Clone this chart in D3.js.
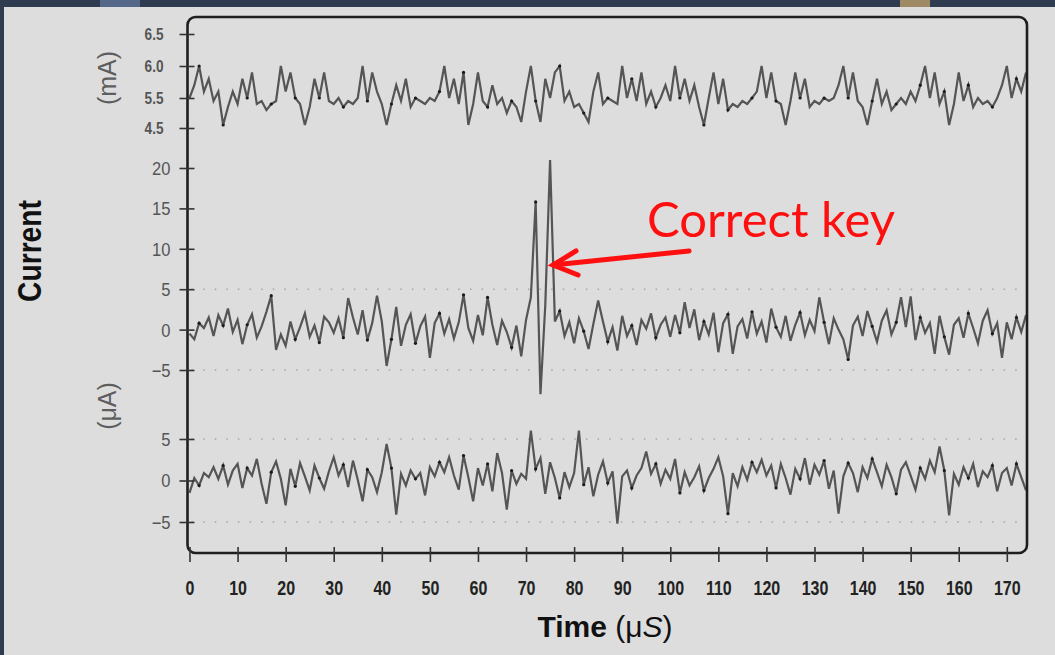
<!DOCTYPE html>
<html>
<head>
<meta charset="utf-8">
<script src="https://cdn.jsdelivr.net/npm/d3@7"></script>
<style>
  html, body { margin: 0; padding: 0; background: #2f3b4e; }
  svg { display: block; }
</style>
</head>
<body>
<div id="chart"></div>
<script>
// time axis, one sample per microsecond
var timeTicks = d3.range(0, 171, 10)

// supply current, mA (top trace)
var currentMA = [
  5.5, 5.7, 6.0, 5.6, 5.8, 5.4, 5.6, 4.6, 5.2, 5.6,
  5.3, 5.8, 5.5, 5.9, 5.3, 5.4, 5.1, 5.3, 5.4, 6.0,
  5.6, 5.9, 5.5, 5.3, 4.6, 5.2, 5.8, 5.5, 5.9, 5.4,
  5.3, 5.5, 5.2, 5.4, 5.3, 5.5, 6.0, 5.4, 5.9, 5.6,
  5.3, 4.6, 5.3, 5.7, 5.4, 5.8, 5.2, 5.5, 5.4, 5.3,
  5.5, 5.4, 5.6, 6.0, 5.5, 5.8, 5.3, 5.9, 4.6, 5.3,
  5.9, 5.4, 5.2, 5.7, 5.3, 5.5, 5.0, 5.4, 5.2, 4.7,
  5.6, 6.0, 5.4, 4.7, 5.8, 5.5, 5.9, 6.0, 5.4, 5.6,
  5.2, 5.3, 5.0, 4.7, 5.6, 5.9, 5.3, 5.5, 5.4, 5.3,
  6.0, 5.5, 5.8, 5.4, 5.9, 5.3, 5.6, 5.2, 5.5, 5.7,
  5.4, 6.0, 5.5, 5.8, 5.4, 5.7, 5.2, 4.6, 5.5, 5.9,
  5.3, 5.8, 5.1, 5.3, 5.2, 5.4, 5.3, 5.5, 5.6, 6.0,
  5.5, 5.9, 5.4, 5.3, 4.6, 5.4, 5.9, 5.5, 5.8, 5.2,
  5.4, 5.3, 5.5, 5.4, 5.5, 5.7, 6.0, 5.5, 5.9, 5.4,
  5.2, 4.6, 5.4, 5.8, 5.3, 5.6, 5.1, 5.3, 5.5, 5.3,
  5.6, 5.4, 5.7, 6.0, 5.5, 5.9, 5.3, 5.6, 4.6, 5.3,
  5.9, 5.4, 5.7, 5.2, 5.5, 5.3, 5.4, 5.2, 5.5, 5.7,
  6.0, 5.5, 5.8, 5.6, 5.9
]

// differential current with correct key, uA (middle trace)
var correctUA = [
  -0.5, -1.2, 0.8, 0.2, 1.5, -0.8, 1.8, 0.5, 2.6, -0.3,
  1.2, -1.8, 0.6, 1.9, -1.0, 0.4, 2.2, 4.2, -2.5, -0.6,
  -2.0, 1.0, -1.2, 0.3, 2.0, -0.9, 0.5, -1.6, 1.6, 0.9,
  -0.4, 1.4, -1.0, 3.9, 1.5, -0.6, 2.4, -1.3, 0.8, 4.2,
  1.0, -4.5, -1.2, 2.8, -2.0, 0.6, 1.9, -1.7, 0.4, 1.6,
  -3.5, 0.8, 2.0, -0.5, 1.3, -1.1, 0.9, 4.3, 0.2, -1.4,
  1.8, -0.7, 4.0, 0.6, -1.9, 1.1, -0.3, -2.2, 0.5, -3.3,
  1.2, 4.0, 15.8, -8.0, 3.0, 21.0, 1.0, 2.3, -0.8, 0.9,
  -1.7, 1.4, -0.2, -2.4, 0.7, 3.6, 1.0, -1.5, 0.3, -2.6,
  1.7, -0.8, 0.5, -1.9, 1.2, 0.1, 2.0, -1.0, 0.6, 1.5,
  -0.9, 1.8, -0.4, 3.4, 0.2, 2.5, -1.3, 1.0, -0.6, 2.1,
  -2.8, 0.8, 1.9, -3.0, 0.4, 1.3, -1.1, 2.2, -0.5, 1.0,
  -1.6, 2.6, 0.3, -0.9, 1.7, -1.4, 0.6, 2.1, -0.7, 1.2,
  -0.2, 4.0, 0.9, -1.8, 1.4, 0.0, -1.2, -3.7, 0.5, 1.6,
  -0.8, 2.3, 0.4, -1.5, 1.1, 2.4, -0.6, 0.9, 4.0, 0.3,
  4.1, -1.3, 1.5, -0.4, 0.8, -3.0, 1.7, -0.9, -3.1, 0.6,
  1.4, -1.0, 2.0, 0.2, -1.7, 1.1, 2.4, -0.5, 0.8, -3.5,
  0.9, -1.2, 1.5, -0.3, 1.8
]

// differential current with wrong key, uA (bottom trace)
var wrongUA = [
  -1.5, 0.3, -0.6, 0.9, 0.4, 1.6, 0.2, 1.8, -0.5, 1.2,
  2.0, -0.9, 1.5, 0.6, 2.6, -0.4, -2.8, 1.0, 2.3, 0.2,
  -3.0, 1.4, -0.7, 2.1, 0.5, -1.2, 1.8, 0.3, -1.0, 1.1,
  2.8, 0.6, 1.9, -0.8, 2.4, 0.1, -2.5, 1.3, 0.4, -1.4,
  1.0, 4.4, 1.5, -4.1, 0.8, -0.6, 1.2, 0.2, 0.9, -1.8,
  1.6, 0.5, 2.2, 1.0, 2.8, 0.6, -1.1, 3.0, 0.4, -2.5,
  1.5, -0.6, 2.0, -1.3, 3.3, 0.9, -3.5, 1.2, -0.4, 0.8,
  0.2, 6.0, 1.4, 2.7, -1.6, 2.2, 0.3, -2.1, 1.0, -0.8,
  0.9, 6.0, -0.5, 1.6, -1.9, 0.7, 2.3, -0.3, 1.1, -5.2,
  0.5, 1.2, -0.9, 0.6, 1.5, 3.5, 0.8, 2.0, -0.4, 1.3,
  0.2, 2.6, -1.5, 1.0, -0.6, 0.4, 1.7, -1.2, 0.3, 1.4,
  2.8, 0.5, -4.0, 0.9, -0.7, 1.6, 0.1, 2.2, 1.0, 2.5,
  0.6, 1.8, -0.9, 2.0, 0.3, -1.7, 1.4, 0.2, 2.7, -0.5,
  1.9, 0.7, 2.4, -1.0, 1.2, -4.0, 0.5, 2.1, 0.9, -1.4,
  1.6, 0.3, 2.6, 1.0, -0.7, 1.9, 0.4, -1.6, 1.3, 2.2,
  0.6, -1.1, 1.5, 0.2, 2.4, 1.0, 4.1, 1.2, -4.2, 0.8,
  -0.5, 1.6, 0.3, 2.0, -0.8, 1.1, 0.4, 1.8, -1.3, 0.9,
  1.5, -0.6, 2.0, 0.4, -1.2
]

var maTicks = [4.5, 5.5, 6.0, 6.5]
var uaTicksMid = [-5, 0, 5, 10, 15, 20]
var uaTicksLow = [-5, 0, 5]
var gridMid = [-5, 5]
var gridLow = [-5, 5]

var W = 1055, H = 655
var frame = { left: 187.5, top: 17, right: 1027, bottom: 553 }

var svg = d3.select("#chart").append("svg")
            .attr("width", W)
            .attr("height", H)

// soft blur, the original is a scanned figure
svg.append("defs").append("filter")
    .attr("id", "soft")
    .append("feGaussianBlur")
    .attr("stdDeviation", 0.55)

// slide background + light panel
svg.append("rect").attr("width", W).attr("height", H).attr("fill", "#2f3b4e")
svg.append("rect").attr("x", 100).attr("y", 0).attr("width", 40).attr("height", 7).attr("fill", "#55688a")
svg.append("rect").attr("x", 900).attr("y", 0).attr("width", 30).attr("height", 7).attr("fill", "#a08a66")
svg.append("rect").attr("x", 4).attr("y", 7).attr("width", W - 4).attr("height", H - 7).attr("fill", "#dddddd")

var x = d3.scaleLinear().domain([0, 174.2]).range([189.5, 1027])
var yTop = d3.scaleLinear().domain([4.5, 5.5, 6.5]).range([128, 98, 34])
var yMid = d3.scaleLinear().domain([-5, 20]).range([370, 168])
var yLow = d3.scaleLinear().domain([-5, 5]).range([522, 439])

// dotted grid lines
function grid(vals, y) {
    svg.append("g").selectAll("line")
        .data(vals)
        .join("line")
        .attr("x1", frame.left + 4)
        .attr("x2", frame.right - 2)
        .attr("y1", d => y(d))
        .attr("y2", d => y(d))
        .attr("stroke", "#a8a8a8")
        .attr("stroke-width", 1.6)
        .attr("stroke-dasharray", "1.6,10")
}
grid(gridMid, yMid)
grid(gridLow, yLow)

// traces
function trace(vals, y) {
    var g = svg.append("g").attr("filter", "url(#soft)")
    var line = d3.line()
                 .x((d, i) => x(i))
                 .y(d => y(d))
    g.append("path")
        .datum(vals)
        .attr("d", line)
        .attr("fill", "none")
        .attr("stroke", "#555")
        .attr("stroke-width", 2.2)
        .attr("stroke-linejoin", "miter")
    // darker points at some samples, like the scanned plot
    g.selectAll("circle")
        .data(vals.map((d, i) => [i, d]).filter((p, i) => i % 5 == 2))
        .join("circle")
        .attr("cx", p => x(p[0]))
        .attr("cy", p => y(p[1]))
        .attr("r", 1.6)
        .attr("fill", "#1a1a1a")
}
trace(currentMA, yTop)
trace(correctUA, yMid)
trace(wrongUA, yLow)

// frame
svg.append("rect")
    .attr("x", frame.left)
    .attr("y", frame.top)
    .attr("width", frame.right - frame.left)
    .attr("height", frame.bottom - frame.top)
    .attr("rx", 8)
    .attr("fill", "none")
    .attr("stroke", "#1e1e1e")
    .attr("stroke-width", 2.6)

// y axes
function yAxis(y, vals, fmt, labelX, size, weight, scaleX) {
    var g = svg.append("g")
               .attr("transform", "translate(" + frame.left + ",0)")
               .call(d3.axisLeft(y).tickValues(vals).tickFormat(fmt).tickSize(8))
    g.select(".domain").remove()
    g.selectAll("line").attr("x1", 7).attr("x2", -8).attr("stroke", "#333").attr("stroke-width", 1.6)
    g.selectAll("text")
        .attr("x", 0)
        .attr("dy", "0.36em")
        .attr("transform", "translate(" + labelX + ",0) scale(" + scaleX + ",1)")
        .style("font-family", "'Liberation Sans', Arial, sans-serif")
        .style("font-size", size + "px")
        .style("font-weight", weight)
        .attr("fill", "#555")
}
yAxis(yTop, maTicks, d3.format(".1f"), -24, 16, "bold", 0.85)
yAxis(yMid, uaTicksMid, d3.format("d"), -17, 18, "normal", 0.92)
yAxis(yLow, uaTicksLow, d3.format("d"), -17, 18, "normal", 0.92)

// x axis
var gx = svg.append("g")
            .attr("transform", "translate(0," + frame.bottom + ")")
            .call(d3.axisBottom(x).tickValues(timeTicks).tickSize(8))
gx.select(".domain").remove()
gx.selectAll("line").attr("y1", -6).attr("y2", 9).attr("stroke", "#333").attr("stroke-width", 1.6)
gx.selectAll("text")
    .attr("y", 42)
    .attr("dy", 0)
    .attr("transform", "scale(0.8,1)")
    .style("font-family", "'Liberation Sans', Arial, sans-serif")
    .style("font-size", "20px")
    .style("font-weight", "bold")
    .attr("fill", "#222")

// axis titles
var title = svg.append("text")
               .attr("x", 605)
               .attr("y", 637)
               .attr("text-anchor", "middle")
               .style("font-family", "'Liberation Sans', Arial, sans-serif")
               .style("font-size", "30px")
               .attr("fill", "#111")
title.append("tspan").text("Time ").style("font-weight", "bold")
title.append("tspan").text("(μ")
title.append("tspan").text("S").style("font-style", "italic")
title.append("tspan").text(")")

svg.append("text")
    .attr("transform", "translate(41,251) rotate(-90) scale(0.83,1)")
    .attr("text-anchor", "middle")
    .style("font-family", "'Liberation Sans', Arial, sans-serif")
    .style("font-size", "34px")
    .style("font-weight", "bold")
    .attr("fill", "#111")
    .text("Current")

svg.append("text")
    .attr("transform", "translate(116,78) rotate(-90)")
    .attr("text-anchor", "middle")
    .style("font-family", "'Liberation Sans', Arial, sans-serif")
    .style("font-size", "25px")
    .attr("fill", "#5e5e5e")
    .text("(mA)")

svg.append("text")
    .attr("transform", "translate(116,406) rotate(-90)")
    .attr("text-anchor", "middle")
    .style("font-family", "'Liberation Sans', Arial, sans-serif")
    .style("font-size", "25px")
    .attr("fill", "#5e5e5e")
    .text("(μA)")

// annotation
var note = { text: "Correct key", time: 75, value: 8 }
var tipX = x(note.time) + 3, tipY = yMid(note.value)
svg.append("path")
    .attr("d", "M" + (tipX + 136) + "," + (tipY - 14) + "L" + tipX + "," + tipY)
    .attr("stroke", "#ff1010")
    .attr("stroke-width", 5)
    .attr("stroke-linecap", "round")
    .attr("fill", "none")
svg.append("path")
    .attr("d", "M" + (tipX + 23) + "," + (tipY - 14) + "L" + tipX + "," + tipY + "L" + (tipX + 25) + "," + (tipY + 10))
    .attr("stroke", "#ff1010")
    .attr("stroke-width", 5)
    .attr("stroke-linecap", "round")
    .attr("stroke-linejoin", "miter")
    .attr("fill", "none")
svg.append("text")
    .attr("x", 647)
    .attr("y", 237)
    .style("font-family", "Lato, 'Open Sans', sans-serif")
    .style("font-size", "49px")
    .attr("fill", "#ff1010")
    .text(note.text)
</script>
</body>
</html>
